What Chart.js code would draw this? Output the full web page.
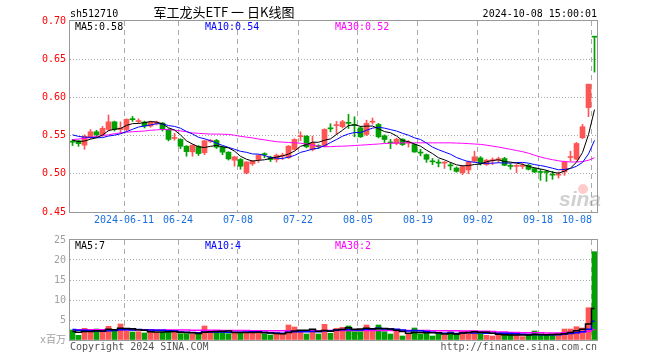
<!DOCTYPE html>
<html>
<head>
<meta charset="utf-8">
<script src="https://cdn.jsdelivr.net/npm/chart.js@4.4.1/dist/chart.umd.min.js"></script>
<style>
  body { margin: 0; background: #fff; }
  #wrap { position: relative; width: 660px; height: 360px; }
  #price { position: absolute; left: 0; top: 0; }
  #volume { position: absolute; left: 0; top: 230px; }
</style>
</head>
<body>
<div id="wrap">
  <canvas id="price" width="660" height="230"></canvas>
  <canvas id="volume" width="660" height="130"></canvas>
</div>
<script>
// trading days 2024-05-28 .. 2024-10-08
const dates = [
  '05-28','05-29','05-30','05-31',
  '06-03','06-04','06-05','06-06','06-07','06-11','06-12','06-13','06-14',
  '06-17','06-18','06-19','06-20','06-21','06-24','06-25','06-26','06-27','06-28',
  '07-01','07-02','07-03','07-04','07-05','07-08','07-09','07-10','07-11','07-12',
  '07-15','07-16','07-17','07-18','07-19','07-22','07-23','07-24','07-25','07-26',
  '07-29','07-30','07-31','08-01','08-02','08-05','08-06','08-07','08-08','08-09',
  '08-12','08-13','08-14','08-15','08-16','08-19','08-20','08-21','08-22','08-23',
  '08-26','08-27','08-28','08-29','08-30','09-02','09-03','09-04','09-05','09-06',
  '09-09','09-10','09-11','09-12','09-13','09-18','09-19','09-20',
  '09-23','09-24','09-25','09-26','09-27','09-30','10-08'
];

const opens = [
  0.5425, 0.543, 0.5375, 0.548, 0.555, 0.551, 0.558, 0.568, 0.558, 0.558,
  0.572, 0.5685, 0.5678, 0.5625, 0.566, 0.5665, 0.558, 0.5465, 0.545, 0.536,
  0.5287, 0.536, 0.5275, 0.5425, 0.5436, 0.5349, 0.5283, 0.5178, 0.5187, 0.501,
  0.513, 0.5187, 0.526, 0.5217, 0.5187, 0.5232, 0.5213, 0.5318, 0.5488, 0.5493,
  0.5318, 0.5367, 0.5362, 0.560, 0.5632, 0.5616, 0.5672, 0.5643, 0.5602, 0.5515,
  0.5677, 0.5646, 0.5497, 0.5415, 0.5396, 0.5453, 0.5405, 0.5383, 0.5283, 0.5251,
  0.5168, 0.5151, 0.5141, 0.5115, 0.5076, 0.5015, 0.505, 0.5165, 0.5208, 0.5121,
  0.5172, 0.5186, 0.520, 0.5108, 0.5098, 0.5098, 0.5112, 0.5068, 0.5029, 0.5029,
  0.4994, 0.4984, 0.5024, 0.5215, 0.5191, 0.5472, 0.5866, 0.680
];
const highs = [
  0.545, 0.544, 0.551, 0.558, 0.557, 0.562, 0.577, 0.569, 0.568, 0.572,
  0.575, 0.572, 0.569, 0.569, 0.569, 0.567, 0.559, 0.553, 0.546, 0.537,
  0.538, 0.537, 0.544, 0.545, 0.545, 0.536, 0.529, 0.523, 0.520, 0.516,
  0.5175, 0.525, 0.5275, 0.523, 0.526, 0.527, 0.537, 0.546, 0.555, 0.550,
  0.5493, 0.538, 0.559, 0.5655, 0.5685, 0.570, 0.5778, 0.5746, 0.562, 0.5702,
  0.573, 0.566, 0.551, 0.545, 0.5465, 0.546, 0.5435, 0.5395, 0.532, 0.526,
  0.520, 0.5185, 0.516, 0.5145, 0.509, 0.511, 0.517, 0.5296, 0.5225, 0.519,
  0.5208, 0.5218, 0.5215, 0.5134, 0.5122, 0.5134, 0.5125, 0.5075, 0.5059, 0.5046,
  0.5033, 0.5024, 0.5165, 0.5296, 0.541, 0.5647, 0.6173, 0.680
];
const lows = [
  0.537, 0.536, 0.532, 0.546, 0.548, 0.549, 0.556, 0.556, 0.553, 0.556,
  0.5685, 0.566, 0.560, 0.561, 0.564, 0.556, 0.543, 0.544, 0.533, 0.523,
  0.523, 0.524, 0.525, 0.541, 0.533, 0.525, 0.518, 0.510, 0.506, 0.500,
  0.511, 0.515, 0.521, 0.516, 0.5155, 0.5187, 0.520, 0.531, 0.5435, 0.534,
  0.530, 0.533, 0.535, 0.555, 0.5515, 0.560, 0.5594, 0.5485, 0.5475, 0.550,
  0.565, 0.547, 0.541, 0.533, 0.538, 0.537, 0.535, 0.528, 0.5235, 0.515,
  0.512, 0.509, 0.507, 0.505, 0.502, 0.499, 0.500, 0.515, 0.5115, 0.511,
  0.5121, 0.5147, 0.5105, 0.5059, 0.5015, 0.5068, 0.505, 0.5015, 0.4915, 0.4901,
  0.4928, 0.4945, 0.498, 0.5165, 0.518, 0.546, 0.5748, 0.6331
];
const closes = [
  0.5415, 0.5395, 0.549, 0.555, 0.551, 0.5595, 0.568, 0.558, 0.560, 0.5713,
  0.571, 0.5695, 0.5625, 0.5678, 0.5678, 0.558, 0.545, 0.5475, 0.536, 0.529,
  0.5375, 0.5265, 0.5432, 0.5436, 0.5349, 0.5283, 0.5195, 0.5221, 0.5099, 0.5155,
  0.5165, 0.5243, 0.5255, 0.5187, 0.5243, 0.5245, 0.5362, 0.545, 0.5498, 0.5353,
  0.5405, 0.5357, 0.5581, 0.559, 0.5642, 0.5682, 0.5662, 0.5633, 0.5484, 0.566,
  0.5687, 0.5484, 0.5449, 0.5405, 0.5453, 0.5383, 0.5415, 0.5286, 0.5273, 0.519,
  0.5158, 0.5141, 0.5151, 0.5105, 0.5032, 0.5095, 0.5155, 0.5222, 0.5134, 0.5178,
  0.5182, 0.5196, 0.5112, 0.5098, 0.5108, 0.5108, 0.5059, 0.5024, 0.5019, 0.5019,
  0.4984, 0.4994, 0.5156, 0.5225, 0.5397, 0.5616, 0.6173, 0.679
];
// closes before the visible window (only feed the left end of MA5 / MA10)
const priorCloses = [0.560, 0.559, 0.557, 0.557, 0.557, 0.548, 0.546, 0.543, 0.5415];

// MA30 of price
const ma30 = [
  0.5448, 0.5455, 0.5465, 0.5475, 0.549, 0.550, 0.551, 0.5525, 0.5535, 0.5545,
  0.555, 0.5555, 0.556, 0.557, 0.5575, 0.558, 0.5578, 0.5572, 0.5562, 0.555,
  0.5535, 0.553, 0.5525, 0.552, 0.552, 0.5518, 0.5516, 0.5505, 0.549, 0.548,
  0.547, 0.5455, 0.5445, 0.5432, 0.542, 0.5415, 0.541, 0.5405, 0.540, 0.539,
  0.5375, 0.5362, 0.5355, 0.5355, 0.536, 0.5362, 0.5365, 0.537, 0.5375, 0.538,
  0.5385, 0.539, 0.5397, 0.540, 0.5402, 0.5405, 0.5405, 0.5405, 0.5405, 0.5405,
  0.5405, 0.5405, 0.5405, 0.5405, 0.5402, 0.540, 0.5395, 0.539, 0.5385, 0.5375,
  0.5362, 0.535, 0.5335, 0.532, 0.5305, 0.529, 0.527, 0.5243, 0.522, 0.520,
  0.5185, 0.517, 0.516, 0.5155, 0.5155, 0.516, 0.5177, 0.521
];

// volume, millions
const volumes = [
  2.5, 1.17, 2.92, 2.17, 2.75, 2.25, 3.42, 2.33, 4.0, 2.25,
  2.0, 2.08, 1.75, 2.33, 1.92, 2.0, 2.25, 2.0, 1.58, 1.58,
  1.5, 1.5, 3.5, 2.17, 1.92, 2.0, 1.58, 1.83, 1.92, 1.92,
  2.0, 1.92, 1.58, 1.25, 1.42, 1.5, 3.75, 3.25, 2.33, 1.5,
  2.5, 1.5, 3.92, 1.67, 2.92, 3.17, 3.5, 2.08, 2.08, 3.75,
  2.75, 3.75, 2.08, 1.5, 2.25, 1.0, 1.5, 3.0, 1.5, 2.0,
  1.0, 1.67, 1.25, 2.08, 1.42, 2.25, 2.25, 2.25, 1.67, 1.17,
  1.0, 1.25, 1.42, 1.42, 1.25, 0.83, 1.25, 2.25, 1.17, 1.17,
  1.17, 1.5, 2.75, 2.75, 3.33, 3.0, 8.08, 22.08
];
const priorVolumes = [3.4, 3.0, 3.2, 3.3, 3.1, 2.0, 1.9, 2.2, 1.9];
const volMa30 = [
  2.55, 2.55, 2.55, 2.55, 2.55, 2.55, 2.55, 2.55, 2.55, 2.55,
  2.55, 2.55, 2.55, 2.55, 2.5, 2.5, 2.5, 2.5, 2.5, 2.5,
  2.45, 2.45, 2.45, 2.45, 2.45, 2.4, 2.4, 2.4, 2.4, 2.4,
  2.3, 2.3, 2.3, 2.3, 2.3, 2.3, 2.3, 2.3, 2.3, 2.3,
  2.3, 2.3, 2.3, 2.35, 2.35, 2.35, 2.35, 2.35, 2.4, 2.4,
  2.4, 2.4, 2.4, 2.4, 2.4, 2.4, 2.4, 2.4, 2.4, 2.35,
  2.3, 2.3, 2.3, 2.3, 2.3, 2.25, 2.25, 2.25, 2.2, 2.2,
  2.1, 2.0, 2.0, 1.9, 1.9, 1.8, 1.8, 1.8, 1.8, 1.75,
  1.75, 1.75, 1.8, 1.85, 1.9, 2.0, 2.2, 2.6
];

const tickDates = ['06-11', '06-24', '07-08', '07-22', '08-05', '08-19', '09-02', '09-18', '10-08'];
const tickLabels = ['2024-06-11', '06-24', '07-08', '07-22', '08-05', '08-19', '09-02', '09-18', '10-08'];
const priceTicks = [0.45, 0.50, 0.55, 0.60, 0.65, 0.70];

const RED = '#ff5555';
const GREEN = '#00a000';
const MONO = '10px "DejaVu Sans Mono", "Noto Sans CJK SC", monospace';

function movingAvg(vals, prior, n) {
  const all = prior.concat(vals);
  return vals.map((_, i) => {
    const end = prior.length + i + 1;
    const win = all.slice(end - n, end);
    return win.reduce((a, b) => a + b, 0) / n;
  });
}

const ma5 = movingAvg(closes, priorCloses, 5);
const ma10 = movingAvg(closes, priorCloses, 10);
const volMa5 = movingAvg(volumes, priorVolumes, 5);
const volMa10 = movingAvg(volumes, priorVolumes, 10);

const colors = closes.map((c, i) => (c >= opens[i] ? RED : GREEN));
const tickIdx = tickDates.map(d => dates.indexOf(d));

// candle i is centred at i, 6px apart; frame starts 2.5px left of the first body
const xMin = -2.5 / 6;
const xMax = dates.length - 1 + 2.5 / 6;
const gridShift = -2.5 / 6;

const pts = arr => arr.map((v, i) => ({ x: i, y: v }));
const bodies = opens.map((o, i) => {
  const c = closes[i];
  if (Math.abs(o - c) < 0.0013) {
    const m = (o + c) / 2;
    return { x: i, y: [m - 0.00066, m + 0.00066] };
  }
  return { x: i, y: [Math.min(o, c), Math.max(o, c)] };
});
const wicks = lows.map((l, i) => ({ x: i, y: [l, highs[i]] }));

function xScaleOpts() {
  return {
    type: 'linear',
    min: xMin,
    max: xMax,
    offset: false,
    bounds: 'ticks',
    afterBuildTicks: s => { s.ticks = tickIdx.map(i => ({ value: i + gridShift })); },
    ticks: { display: false },
    grid: { color: '#aaaaaa', drawTicks: false, offset: false },
    border: { display: false, dash: [5, 4] }
  };
}

const framePlugin = {
  id: 'frame',
  afterDraw(chart) {
    const { ctx, chartArea: a } = chart;
    ctx.save();
    ctx.strokeStyle = '#999999';
    ctx.lineWidth = 1;
    ctx.strokeRect(a.left - 0.5, a.top - 0.5, a.right - a.left + 1, a.bottom - a.top + 1);
    ctx.restore();
  }
};

const priceText = {
  id: 'priceText',
  beforeDatasetsDraw(chart) {
    const { ctx } = chart;
    ctx.save();
    ctx.font = 'italic bold 21px "Liberation Sans", sans-serif';
    ctx.fillStyle = 'rgba(150,150,150,0.45)';
    ctx.textAlign = 'center';
    ctx.fillText('sina', 580, 206);
    ctx.fillStyle = 'rgba(255,110,110,0.35)';
    ctx.beginPath();
    ctx.arc(583, 189, 5, 0, Math.PI * 2);
    ctx.fill();
    ctx.restore();
  },
  afterDraw(chart) {
    const { ctx } = chart;
    const x = chart.scales.x;
    ctx.save();
    ctx.font = MONO;
    ctx.textBaseline = 'alphabetic';
    ctx.fillStyle = '#000';
    ctx.textAlign = 'left';
    ctx.fillText('sh512710', 70, 17);
    ctx.textAlign = 'right';
    ctx.fillText('2024-10-08 15:00:01', 597, 17);
    ctx.textAlign = 'left';
    ctx.fillStyle = '#000';
    ctx.fillText('MA5:0.58', 75, 30);
    ctx.fillStyle = '#0000ff';
    ctx.fillText('MA10:0.54', 205, 30);
    ctx.fillStyle = '#ff00ff';
    ctx.fillText('MA30:0.52', 335, 30);

    ctx.font = '13px "Noto Sans CJK SC", sans-serif';
    ctx.fillStyle = '#000';
    ctx.textAlign = 'center';
    ctx.fillText('军工龙头ETF 一 日K线图', 224, 17);

    ctx.font = MONO;
    ctx.fillStyle = '#1a6fdf';
    ctx.textBaseline = 'middle';
    tickIdx.forEach((idx, k) => {
      const px = x.getPixelForValue(idx + gridShift);
      ctx.textAlign = k === tickIdx.length - 1 ? 'right' : 'center';
      ctx.fillText(tickLabels[k], px, 220);
    });
    ctx.restore();
  }
};

const volumeText = {
  id: 'volumeText',
  afterDraw(chart) {
    const { ctx } = chart;
    ctx.save();
    ctx.font = MONO;
    ctx.textAlign = 'left';
    ctx.fillStyle = '#000';
    ctx.fillText('MA5:7', 75, 19);
    ctx.fillStyle = '#0000ff';
    ctx.fillText('MA10:4', 205, 19);
    ctx.fillStyle = '#ff00ff';
    ctx.fillText('MA30:2', 335, 19);
    ctx.fillStyle = '#555';
    ctx.fillText('Copyright 2024 SINA.COM', 70, 120);
    ctx.textAlign = 'right';
    ctx.fillText('http://finance.sina.com.cn', 597, 120);
    ctx.restore();
  }
};

const edge = (v, lo, hi) => Math.abs(v - lo) < 1e-6 || Math.abs(v - hi) < 1e-6;

new Chart(document.getElementById('price'), {
  type: 'bar',
  data: {
    datasets: [
      { type: 'line', data: pts(ma5), borderColor: '#000000', borderWidth: 1, pointRadius: 0, order: 0 },
      { type: 'line', data: pts(ma10), borderColor: '#0000ff', borderWidth: 1, pointRadius: 0, order: 0 },
      { type: 'line', data: pts(ma30), borderColor: '#ff00ff', borderWidth: 1, pointRadius: 0, order: 0 },
      { type: 'bar', data: wicks, backgroundColor: colors, barThickness: 1, grouped: false, order: 2 },
      { type: 'bar', data: bodies, backgroundColor: colors, barThickness: 5, grouped: false, order: 1 }
    ]
  },
  options: {
    responsive: false,
    animation: false,
    devicePixelRatio: 1,
    layout: { padding: { left: 0, right: 63, top: 21, bottom: 18 } },
    plugins: { legend: { display: false }, tooltip: { enabled: false } },
    scales: {
      x: xScaleOpts(),
      y: {
        min: 0.45,
        max: 0.70,
        afterBuildTicks: s => { s.ticks = priceTicks.map(v => ({ value: v })); },
        afterFit: s => { s.width = 70; },
        ticks: { color: '#ff0000', font: { family: '"DejaVu Sans Mono", monospace', size: 10 }, padding: 4, callback: v => v.toFixed(2) },
        grid: { drawTicks: false, color: c => (edge(c.tick.value, 0.45, 0.70) ? 'rgba(0,0,0,0)' : '#aaaaaa') },
        border: { display: false, dash: [1, 2] }
      }
    }
  },
  plugins: [framePlugin, priceText]
});

new Chart(document.getElementById('volume'), {
  type: 'bar',
  data: {
    datasets: [
      { type: 'line', data: pts(volMa5), borderColor: '#000000', borderWidth: 1.5, pointRadius: 0, stepped: 'middle', order: 0 },
      { type: 'line', data: pts(volMa10), borderColor: '#0000ff', borderWidth: 1.5, pointRadius: 0, stepped: 'middle', order: 0 },
      { type: 'line', data: pts(volMa30), borderColor: '#ff00ff', borderWidth: 1.5, pointRadius: 0, stepped: 'middle', order: 0 },
      { type: 'bar', data: pts(volumes), backgroundColor: colors, barThickness: 5, grouped: false, order: 1 }
    ]
  },
  options: {
    responsive: false,
    animation: false,
    devicePixelRatio: 1,
    layout: { padding: { left: 0, right: 63, top: 10, bottom: 20 } },
    plugins: { legend: { display: false }, tooltip: { enabled: false } },
    scales: {
      x: xScaleOpts(),
      y: {
        min: 0,
        max: 25,
        afterFit: s => { s.width = 70; },
        ticks: {
          stepSize: 5,
          color: '#a0a0a0',
          font: { family: '"DejaVu Sans Mono", "Noto Sans CJK SC", monospace', size: 10 },
          padding: 4,
          callback: v => (v === 0 ? 'x百万' : v)
        },
        grid: { drawTicks: false, color: c => (edge(c.tick.value, 0, 25) ? 'rgba(0,0,0,0)' : '#aaaaaa') },
        border: { display: false, dash: [1, 2] }
      }
    }
  },
  plugins: [framePlugin, volumeText]
});
</script>
</body>
</html>
